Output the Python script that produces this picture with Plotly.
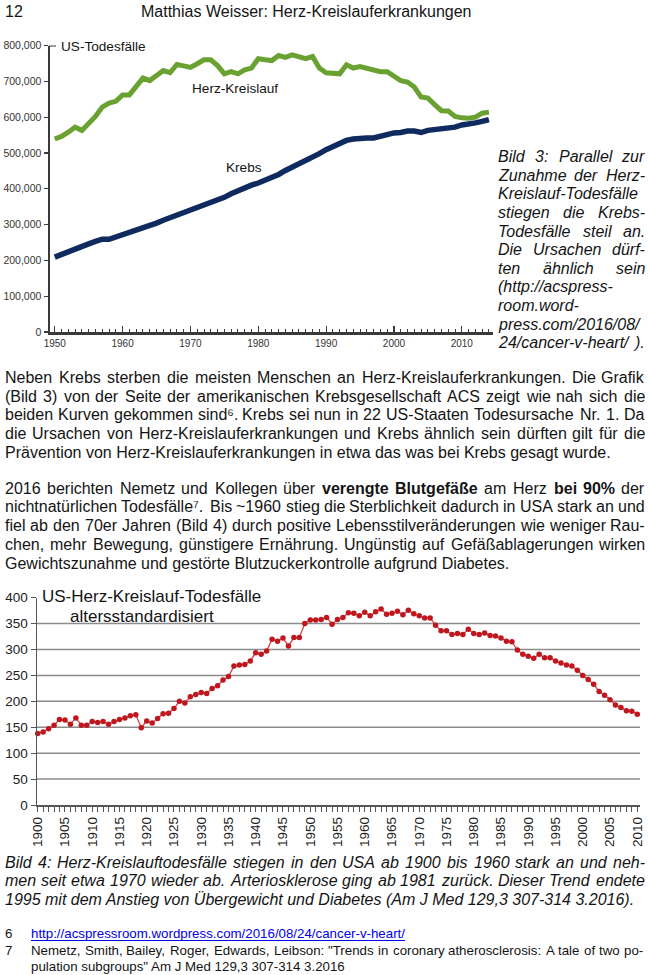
import re
import plotly.graph_objects as go

W, H = 650, 975
FONT = "Liberation Sans, Arial, Helvetica, sans-serif"

# ---------------- Chart 1 (Bild 3): US deaths ----------------
years_top = list(range(1950, 2015))
herz_kreislauf = [539000, 546000, 558000, 572000, 563000, 583000, 602000, 628000, 639000, 644000,
                  662000, 662000, 688000, 709000, 702000, 716000, 730000, 724000, 747000, 743000,
                  739000, 749000, 760000, 760000, 744000, 721000, 727000, 721000, 732000, 737000,
                  763000, 760000, 758000, 772000, 767000, 774000, 769000, 763000, 769000, 737000,
                  724000, 724000, 721000, 746000, 737000, 741000, 737000, 730000, 727000, 727000,
                  713000, 702000, 698000, 684000, 656000, 653000, 635000, 618000, 617000, 602000,
                  598000, 597000, 600000, 611000, 614000]
krebs = [209000, 217000, 226000, 233000, 239000, 246000, 253000, 259000, 259000, 265000,
         273000, 280000, 286000, 292000, 296000, 304000, 312000, 319000, 326000, 332000,
         339000, 347000, 354000, 362000, 369000, 376000, 386000, 395000, 403000, 410000,
         416000, 423000, 430000, 440000, 451000, 460000, 470000, 477000, 486000, 498000,
         509000, 518000, 525000, 535000, 539000, 542000, 542000, 542000, 546000, 553000,
         556000, 557000, 561000, 561000, 557000, 563000, 565000, 567000, 570000, 572000,
         578000, 580000, 584000, 588000, 593000]

# ---------------- Chart 2 (Bild 4): age standardised CVD deaths ----------------
years_bottom = list(range(1900, 2011))
herz_age_std = [138, 141, 147, 154, 165, 164, 156, 168, 154, 154,
                161, 159, 161, 156, 161, 165, 168, 172, 174, 149,
                162, 158, 167, 176, 177, 186, 200, 197, 209, 213,
                217, 215, 225, 230, 241, 248, 268, 270, 271, 278,
                294, 291, 297, 320, 316, 322, 307, 323, 323, 350,
                357, 357, 358, 362, 349, 358, 362, 371, 370, 365,
                372, 365, 373, 378, 368, 370, 374, 367, 376, 369,
                365, 361, 361, 347, 336, 336, 329, 331, 329, 339,
                331, 329, 332, 327, 326, 322, 316, 315, 299, 291,
                287, 283, 291, 284, 284, 278, 274, 270, 268, 260,
                250, 242, 233, 219, 212, 203, 193, 188, 182, 181,
                175]
bottom_grid_values = [50, 100, 150, 200, 250, 300, 350]

# ---------------- page text ----------------
header_page = "12"
header_title = "Matthias Weisser: Herz-Kreislauferkrankungen"
cap3_lines = ["Bild 3: Parallel zur", "Zunahme der Herz-", "Kreislauf-Todesfälle",
              "stiegen die Krebs-", "Todesfälle steil an.", "Die Ursachen dürf-",
              "ten ähnlich sein", "(http://acspress-", "room.word-",
              "press.com/2016/08/", "24/cancer-v-heart/ )."]
cap3_justify = [True, True, False, True, True, True, True, False, False, False, True]
body1_lines = [
    "Neben Krebs sterben die meisten Menschen an Herz-Kreislauferkrankungen. Die Grafik",
    "(Bild 3) von der Seite der amerikanischen Krebsgesellschaft ACS zeigt wie nah sich die",
    "beiden Kurven gekommen sind⁶. Krebs sei nun in 22 US-Staaten Todesursache Nr. 1. Da",
    "die Ursachen von Herz-Kreislauferkrankungen und Krebs ähnlich sein dürften gilt für die",
    "Prävention von Herz-Kreislauferkrankungen in etwa das was bei Krebs gesagt wurde.",
]
body2_lines = [
    "2016 berichten Nemetz und Kollegen über <b>verengte</b> <b>Blutgefäße</b> am Herz <b>bei</b> <b>90%</b> der",
    "nichtnatürlichen Todesfälle⁷. Bis ~1960 stieg die Sterblichkeit dadurch in USA stark an und",
    "fiel ab den 70er Jahren (Bild 4) durch positive Lebensstilveränderungen wie weniger Rau-",
    "chen, mehr Bewegung, günstigere Ernährung. Ungünstig auf Gefäßablagerungen wirken",
    "Gewichtszunahme und gestörte Blutzuckerkontrolle aufgrund Diabetes.",
]
cap4_lines = [
    "Bild 4: Herz-Kreislauftodesfälle stiegen in den USA ab 1900 bis 1960 stark an und neh-",
    "men seit etwa 1970 wieder ab. Arteriosklerose ging ab 1981 zurück. Dieser Trend endete",
    "1995 mit dem Anstieg von Übergewicht und Diabetes (Am J Med 129,3 307-314 3.2016).",
]
foot6_url = "http://acspressroom.wordpress.com/2016/08/24/cancer-v-heart/"
foot7_lines = [
    "Nemetz, Smith, Bailey, Roger, Edwards, Leibson: \"Trends in coronary atherosclerosis: A tale of two po-",
    "pulation subgroups\" Am J Med 129,3 307-314 3.2016",
]

# ---------------- font metrics (Arial / Liberation Sans, 1/1000 em) ----------------
REG = {' ': 278, '!': 278, '"': 355, '%': 889, "'": 191, '(': 333, ')': 333, ',': 278, '-': 333,
       '.': 278, '/': 278, ':': 278, ';': 278, '~': 584, '?': 556, '⁶': 350, '⁷': 350,
       'A': 667, 'B': 667, 'C': 722, 'D': 722, 'E': 667, 'F': 611, 'G': 778, 'H': 722, 'I': 278,
       'J': 500, 'K': 667, 'L': 556, 'M': 833, 'N': 722, 'O': 778, 'P': 667, 'Q': 778, 'R': 722,
       'S': 667, 'T': 611, 'U': 722, 'V': 667, 'W': 944, 'X': 667, 'Y': 667, 'Z': 611,
       'a': 556, 'b': 556, 'c': 500, 'd': 556, 'e': 556, 'f': 278, 'g': 556, 'h': 556, 'i': 222,
       'j': 222, 'k': 500, 'l': 222, 'm': 833, 'n': 556, 'o': 556, 'p': 556, 'q': 556, 'r': 333,
       's': 500, 't': 278, 'u': 556, 'v': 500, 'w': 722, 'x': 500, 'y': 500, 'z': 500,
       'ä': 556, 'ö': 556, 'ü': 556, 'ß': 611, 'Ä': 667, 'Ö': 778, 'Ü': 722}
for d in "0123456789":
    REG[d] = 556
BOLD = {' ': 278, '%': 889, 'B': 722,
        'a': 556, 'b': 611, 'c': 556, 'd': 611, 'e': 556, 'f': 333, 'g': 611, 'h': 611, 'i': 278,
        'j': 278, 'k': 556, 'l': 278, 'm': 889, 'n': 611, 'o': 611, 'p': 611, 'q': 611, 'r': 389,
        's': 556, 't': 333, 'u': 611, 'v': 556, 'w': 778, 'x': 556, 'y': 556, 'z': 500,
        'ä': 556, 'ö': 611, 'ü': 611, 'ß': 611}
for d in "0123456789":
    BOLD[d] = 556


def text_width(s, size):
    bold = False
    total = 0.0
    for tok in re.split(r"(<[^>]+>)", s):
        if tok.startswith("<"):
            t = tok.lower()
            if t == "<b>":
                bold = True
            elif t == "</b>":
                bold = False
            continue
        for ch in tok:
            table = BOLD if bold else REG
            total += table.get(ch, REG.get(ch, 556))
    return total * size / 1000.0


annotations = []


def add_text(x, yc, text, size, anchor="left", italic=False, color="#141414"):
    annotations.append(dict(
        x=x / W, y=1 - (yc + 0.53 * size) / H, xref="paper", yref="paper",
        xanchor=anchor, yanchor="bottom", text=text, showarrow=False,
        borderpad=0, borderwidth=0,
        font=dict(family=FONT, size=size, color=color,
                  style="italic" if italic else "normal")))


def add_line(text, x0, x1, yc, size, justify=True, italic=False, color="#141414"):
    words = text.split(" ")
    if not justify or len(words) < 2:
        add_text(x0, yc, text, size, italic=italic, color=color)
        return
    widths = [text_width(w, size) for w in words]
    gap = (x1 - x0 - sum(widths)) / (len(words) - 1)
    x = x0
    for i, (w, wd) in enumerate(zip(words, widths)):
        if i == len(words) - 1:
            add_text(x1, yc, w, size, anchor="right", italic=italic, color=color)
        else:
            add_text(x, yc, w, size, italic=italic, color=color)
        x += wd + gap


# header
add_text(5, 12, header_page, 16)
annotations.append(dict(x=306 / W, y=1 - (12 + 0.53 * 16) / H, xref="paper", yref="paper",
                        xanchor="center", yanchor="bottom", text=header_title, showarrow=False,
                        borderpad=0, borderwidth=0,
                        font=dict(family=FONT, size=16, color="#141414")))

# caption Bild 3
for i, (ln, j) in enumerate(zip(cap3_lines, cap3_justify)):
    add_line(ln, 498, 645, 156.8 + 18.6 * i, 16, justify=j, italic=True)

# body paragraphs
for i, ln in enumerate(body1_lines):
    add_line(ln, 5, 645, 377.5 + 18.75 * i, 16, justify=(i < len(body1_lines) - 1))
for i, ln in enumerate(body2_lines):
    add_line(ln, 5, 645, 488.2 + 18.75 * i, 16, justify=(i < len(body2_lines) - 1))

# caption Bild 4
for i, ln in enumerate(cap4_lines):
    add_line(ln, 5, 645, 862.5 + 18.5 * i, 16, justify=(i < len(cap4_lines) - 1), italic=True)

# footnotes
FS = 13.3
add_text(5, 934, "6", FS)
add_text(31, 934, foot6_url, FS, color="#0000ee")
add_text(5, 951, "7", FS)
add_line(foot7_lines[0], 31, 643, 951, FS, justify=True)
add_line(foot7_lines[1], 31, 643, 967, FS, justify=False)

# chart 1 labels
add_text(61, 46.5, "US-Todesfälle", 13.6)
add_text(192, 88.5, "Herz-Kreislauf", 13.6)
add_text(226, 168, "Krebs", 13.6)

# chart 2 title
add_text(41.5, 597, "US-Herz-Kreislauf-Todesfälle", 17)
add_text(70, 616.5, "altersstandardisiert", 17)

# ---------------- figure ----------------
fig = go.Figure()
fig.add_trace(go.Scatter(x=years_top, y=herz_kreislauf, mode="lines", xaxis="x", yaxis="y",
                         line=dict(color="#6aa232", width=5), hoverinfo="skip"))
fig.add_trace(go.Scatter(x=years_top, y=krebs, mode="lines", xaxis="x", yaxis="y",
                         line=dict(color="#0f2a5e", width=5.5), hoverinfo="skip"))
fig.add_trace(go.Scatter(x=years_bottom, y=herz_age_std, mode="lines+markers", xaxis="x2", yaxis="y2",
                         line=dict(color="#d24548", width=1.3),
                         marker=dict(color="#c0161d", size=5.5), cliponaxis=False, hoverinfo="skip"))

shapes = []
for v in bottom_grid_values:
    shapes.append(dict(type="line", xref="x2 domain", yref="y2", x0=0, x1=1, y0=v, y1=v,
                       line=dict(color="#8c8c8c", width=1.5), layer="below"))
# small corner tick at the top of chart 1's y axis
shapes.append(dict(type="line", xref="paper", yref="y", x0=49 / W, x1=56 / W, y0=800000, y1=800000,
                   line=dict(color="#3a3a3a", width=2)))
# underline of the footnote link
shapes.append(dict(type="line", xref="paper", yref="paper", x0=31 / W, x1=405 / W,
                   y0=1 - 940.5 / H, y1=1 - 940.5 / H, line=dict(color="#0000ee", width=1)))

axis_dark = "#3a3a3a"
fig.update_layout(
    template="none",
    width=W, height=H, autosize=False,
    margin=dict(l=0, r=0, t=0, b=0),
    paper_bgcolor="white", plot_bgcolor="rgba(0,0,0,0)",
    showlegend=False,
    font=dict(family=FONT, color="#141414"),
    xaxis=dict(domain=[50 / W, 493 / W], range=[1949.3, 2014.6], anchor="y",
               showline=True, linecolor=axis_dark, linewidth=2.5,
               ticks="inside", ticklen=6, tickwidth=1.2, tickcolor=axis_dark,
               tick0=1950, dtick=10, tickfont=dict(size=10, color="#333"),
               minor=dict(tick0=1950, dtick=1, ticks="inside", ticklen=3.5, tickwidth=1,
                          tickcolor=axis_dark, showgrid=False),
               showgrid=False, zeroline=False, automargin=False, fixedrange=True),
    yaxis=dict(domain=[1 - 332 / H, 1 - 45.5 / H], range=[0, 800000], anchor="x",
               showline=True, linecolor=axis_dark, linewidth=2.5,
               ticks="outside", ticklen=4, tickwidth=1.2, tickcolor=axis_dark,
               dtick=100000, tickformat=",d", tickfont=dict(size=10.5, color="#333"),
               showgrid=False, zeroline=False, automargin=False, fixedrange=True),
    xaxis2=dict(domain=[37 / W, 640 / W], range=[1899.87, 2010.5], anchor="y2",
                showline=True, linecolor="#555", linewidth=1.5,
                ticks="outside", ticklen=5, tickwidth=1, tickcolor="#555",
                tick0=1900, dtick=5, tickangle=-90, tickfont=dict(size=13.5, color="#222"),
                minor=dict(tick0=1900, dtick=1, ticks="outside", ticklen=5, tickwidth=1,
                           tickcolor="#555", showgrid=False),
                showgrid=False, zeroline=False, automargin=False, fixedrange=True),
    yaxis2=dict(domain=[1 - 805 / H, 1 - 597.7 / H], range=[0, 400], anchor="x2",
                showline=True, linecolor="#555", linewidth=1.5,
                ticks="outside", ticklen=5, tickwidth=1, tickcolor="#555",
                dtick=50, tickfont=dict(size=13.5, color="#222"),
                showgrid=False, zeroline=False, automargin=False, fixedrange=True),
    shapes=shapes,
    annotations=annotations,
)

fig.write_html("out.html", config={"displayModeBar": False, "staticPlot": True},
               post_script="document.body.style.margin='0';document.body.style.padding='0';")
